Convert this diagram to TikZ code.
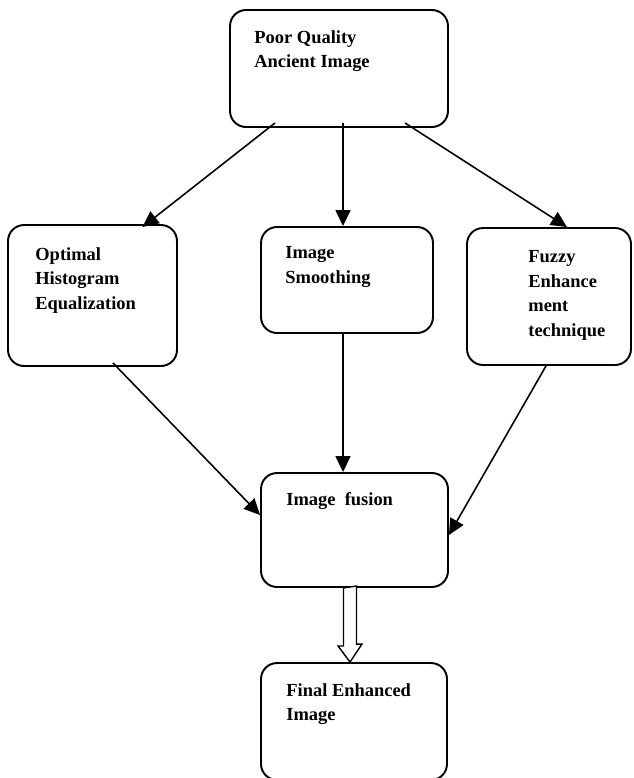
\documentclass[tikz,border=0pt]{standalone}
\usepackage{fontspec}
\setmainfont{Liberation Serif}
\usetikzlibrary{arrows.meta}

\begin{document}
\begin{tikzpicture}[
  x=0.02cm, y=-0.02cm,
  stepblock/.style={
    rectangle,
    rounded corners=0.32cm,
    line width=1.1pt,
    draw=black,
    inner sep=0em
  },
  blocktext/.style={
    anchor=north west,
    inner sep=0mm,
    align=left,
    font=\fontsize{10.5}{14}\selectfont\bfseries
  },
  flow/.style={-{Triangle[length=0.32cm,width=0.3cm]},line width=0.9pt},
  hollowarrow/.style={line width=0.8pt,draw=black,fill=white}]
  \useasboundingbox (0,0) rectangle (633,778);

  % top
  \node [stepblock,minimum width=4.36cm,minimum height=2.34cm,
    label={[blocktext,xshift=0.5cm,yshift=-0.42cm]north west:{Poor Quality\\Ancient Image}}]
    (poor) at (339,68.5) {};
  % level 2
  \node [stepblock,minimum width=3.38cm,minimum height=2.82cm,
    label={[blocktext,xshift=0.56cm,yshift=-0.46cm]north west:{Optimal\\Histogram\\Equalization}}]
    (histo) at (92.5,295.5) {};
  \node [stepblock,minimum width=3.44cm,minimum height=2.12cm,
    label={[blocktext,xshift=0.5cm,yshift=-0.4cm]north west:{Image\\Smoothing}}]
    (smooth) at (347,280) {};
  \node [stepblock,minimum width=3.28cm,minimum height=2.74cm,
    label={[blocktext,xshift=1.24cm,yshift=-0.46cm]north west:{Fuzzy\\Enhance\\ment\\technique}}]
    (fuzzy) at (549,296.5) {};
  % level 3
  \node [stepblock,minimum width=3.74cm,minimum height=2.28cm,
    label={[blocktext,xshift=0.52cm,yshift=-0.4cm]north west:{Image~ fusion}}]
    (fusion) at (354.5,530) {};
  \node [stepblock,minimum width=3.72cm,minimum height=2.34cm,
    label={[blocktext,xshift=0.52cm,yshift=-0.42cm]north west:{Final Enhanced\\Image}}]
    (final) at (354,721.5) {};

  \draw[flow] ([xshift=-1.28cm,yshift=0.1cm]poor.south) -- ([xshift=1.0cm,yshift=-0.06cm]histo.north);
  \draw[flow] ([xshift=0.08cm,yshift=0.1cm]poor.south) -- ([xshift=-0.08cm]smooth.north);
  \draw[flow] ([xshift=1.32cm,yshift=0.1cm]poor.south) -- ([xshift=0.36cm]fuzzy.north);

  \draw[flow] ([xshift=0.41cm,yshift=0.08cm]histo.south) -- ([yshift=0.3cm]fusion.west);
  \draw[flow] ([xshift=-0.08cm]smooth.south) -- ([xshift=-0.23cm]fusion.north);
  \draw[flow] ([xshift=-0.06cm]fuzzy.south) -- ([yshift=-0.1cm]fusion.east);

  % wide arrow
  \draw[hollowarrow] ([xshift=-0.22cm]fusion.south) -- ++(0,58) -- ++(-5.5,0)
    -- ([xshift=-0.08cm]final.north) -- ++(12,-18) -- ++(-5.5,0) -- ++(0,-58) -- cycle;

\end{tikzpicture}
\end{document}
